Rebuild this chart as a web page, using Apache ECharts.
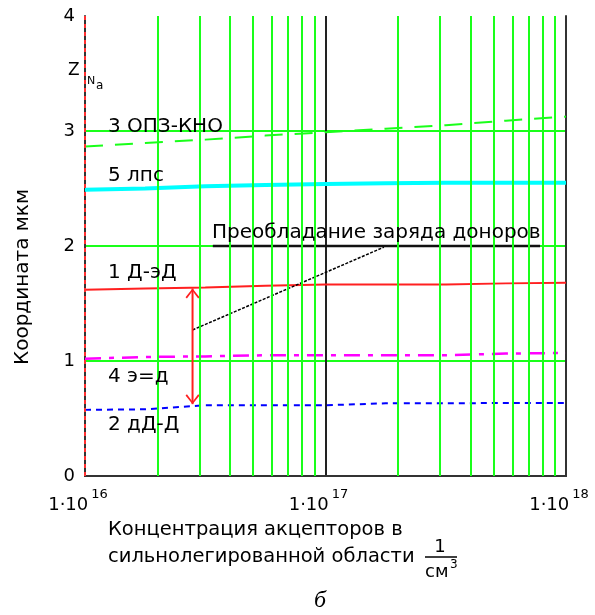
<!DOCTYPE html>
<html>
<head>
<meta charset="utf-8">
<script src="https://cdn.jsdelivr.net/npm/echarts@6/dist/echarts.min.js"></script>
<style>
  html, body { margin: 0; padding: 0; background: #fff; }
  #chart { width: 595px; height: 615px; }
</style>
</head>
<body>
<div id="chart"></div>
<script>
// концентрация (точки через четверть декады)
const concentration = [1e16, 1.778e16, 3.162e16, 5.623e16, 1e17, 1.778e17, 3.162e17, 5.623e17, 1e18];

// координаты, мкм
const line1 = [1.62, 1.63, 1.64, 1.655, 1.665, 1.665, 1.665, 1.675, 1.68];     // 1 Д-эД
const line2 = [0.575, 0.58, 0.615, 0.615, 0.615, 0.632, 0.632, 0.635, 0.635];  // 2 дД-Д
const line3 = [2.865, 2.895, 2.925, 2.96, 2.99, 3.02, 3.05, 3.09, 3.125];      // 3 ОПЗ-КНО
const line4 = [1.02, 1.035, 1.04, 1.05, 1.05, 1.05, 1.05, 1.065, 1.07];        // 4 э=д
const line5 = [2.49, 2.5, 2.52, 2.53, 2.54, 2.545, 2.55, 2.55, 2.55];          // 5 лпс

const yTicks = [0, 1, 2, 3, 4];
const minorGridX = [2e16, 3e16, 4e16, 5e16, 6e16, 7e16, 8e16, 9e16,
                    2e17, 3e17, 4e17, 5e17, 6e17, 7e17, 8e17, 9e17];

// выноска "Преобладание заряда доноров"
const leaderLine = [[2.8e16, 1.27], [1.75e17, 1.99]];
const underline = [[3.4e16, 2], [7.8e17, 2]];
const arrowX = 2.8e16;
const arrowTop = 1.63;
const arrowBottom = 0.625;

const FONT = '"DejaVu Sans", sans-serif';
const GREEN = '#1aff1a';

const pair = (ys) => concentration.map((x, i) => [x, ys[i]]);

const chart = echarts.init(document.getElementById('chart'), null, { renderer: 'canvas' });

const chevron = 'path://M5,0 L10,7 L9,8 L5,2 L1,8 L0,7 Z';

function txt(x, y, text, size, extra) {
  return Object.assign({
    type: 'text', x: x, y: y, z: 10,
    style: {
      text: text, font: size + 'px ' + FONT, fill: '#000',
      align: 'left', verticalAlign: 'middle', textVerticalAlign: 'middle',
    },
  }, extra || {});
}

const option = {
  animation: false,
  backgroundColor: '#fff',
  grid: { left: 85, right: 29, top: 16, bottom: 139, containLabel: false, outerBoundsMode: 'none' },
  xAxis: [
    {
      type: 'log',
      logBase: 10,
      min: 1e16,
      max: 1e18,
      axisLine: { show: true, lineStyle: { color: '#333', width: 2 } },
      axisTick: { show: false },
      splitLine: {
        show: true,
        showMinLine: false,
        showMaxLine: false,
        lineStyle: { color: '#222', width: 2 },
      },
      axisLabel: {
        margin: 12,
        formatter: (v) => '{b|1·10}{s|' + Math.round(Math.log10(v)) + '}',
        rich: {
          b: { fontFamily: FONT, fontSize: 18, color: '#000', lineHeight: 26, verticalAlign: 'bottom' },
          s: { fontFamily: FONT, fontSize: 13, color: '#000', lineHeight: 26, verticalAlign: 'top', padding: [0, 14, 0, 3] },
        },
      },
    },
    {
      type: 'log',
      logBase: 10,
      min: 1e16,
      max: 1e18,
      position: 'top',
      axisLine: { show: true, lineStyle: { color: '#333', width: 2 } },
      axisTick: { show: false },
      axisLabel: { show: false },
      splitLine: { show: false },
    },
  ],
  yAxis: [
    {
      type: 'value',
      min: 0,
      max: 4,
      interval: 1,
      axisLine: { show: true, lineStyle: { color: '#333', width: 2 } },
      axisTick: { show: false },
      axisLabel: {
        margin: 10,
        fontFamily: FONT,
        fontSize: 18,
        color: '#000',
        formatter: (v) => (yTicks.includes(v) ? String(v) : ''),
      },
      splitLine: {
        show: true,
        showMinLine: false,
        showMaxLine: false,
        lineStyle: { color: GREEN, width: 2 },
      },
    },
    {
      type: 'value',
      min: 0,
      max: 4,
      position: 'right',
      axisLine: { show: true, lineStyle: { color: '#333', width: 2 } },
      axisTick: { show: false },
      axisLabel: { show: false },
      splitLine: { show: false },
    },
  ],
  series: [
    {
      // сетка по 2..9 в каждой декаде + красная пунктирная ось
      type: 'line',
      data: [[1e16, 0]],
      showSymbol: false,
      lineStyle: { opacity: 0 },
      z: 1,
      markLine: {
        silent: true,
        symbol: 'none',
        label: { show: false },
        lineStyle: { color: GREEN, width: 2, type: 'solid' },
        data: minorGridX.map((v) => ({ xAxis: v })).concat([
          { xAxis: 1e16, lineStyle: { color: '#ff3030', width: 2, type: [4, 4] } },
        ]),
      },
    },
    {
      name: '3 ОПЗ-КНО',
      type: 'line',
      data: pair(line3),
      showSymbol: false,
      z: 3,
      lineStyle: { color: GREEN, width: 2, type: [18, 12] },
    },
    {
      name: '5 лпс',
      type: 'line',
      data: pair(line5),
      showSymbol: false,
      z: 3,
      lineStyle: { color: '#00ffff', width: 4 },
    },
    {
      name: '1 Д-эД',
      type: 'line',
      data: pair(line1),
      showSymbol: false,
      z: 3,
      lineStyle: { color: '#ff2020', width: 2 },
    },
    {
      name: '4 э=д',
      type: 'line',
      data: pair(line4),
      showSymbol: false,
      z: 3,
      lineStyle: { color: '#ff00ff', width: 2.5, type: [16, 8, 5, 8] },
    },
    {
      name: '2 дД-Д',
      type: 'line',
      data: pair(line2),
      showSymbol: false,
      z: 3,
      lineStyle: { color: '#0000ff', width: 2, type: [6, 5] },
    },
    {
      // наклонная выноска
      type: 'line',
      data: leaderLine,
      showSymbol: false,
      z: 4,
      lineStyle: { color: '#000', width: 1.5, type: [3, 1.5] },
    },
    {
      type: 'line',
      data: underline,
      showSymbol: false,
      z: 4,
      lineStyle: { color: '#111', width: 2.5 },
    },
    {
      // двусторонняя стрелка
      type: 'line',
      data: [
        { value: [arrowX, arrowTop], symbolRotate: 0, symbolOffset: [0, 5] },
        { value: [arrowX, arrowBottom], symbolRotate: 180, symbolOffset: [0, -5] },
      ],
      symbol: chevron,
      symbolSize: [14, 10],
      showSymbol: true,
      z: 4,
      itemStyle: { color: '#ff2020' },
      lineStyle: { color: '#ff2020', width: 2 },
    },
  ],
  graphic: [
    txt(23, 277, 'Координата мкм', 20, { rotation: Math.PI / 2,
      style: { text: 'Координата мкм', font: '20px ' + FONT, fill: '#000', align: 'center', verticalAlign: 'middle', textAlign: 'center', textVerticalAlign: 'middle' } }),
    txt(108, 530, 'Концентрация акцепторов в', 19.5),
    txt(108, 557, 'сильнолегированной области', 19.5),
    { type: 'text', x: 440, y: 547,
      style: { text: '1', font: '18px ' + FONT, fill: '#000', align: 'center', verticalAlign: 'middle', textAlign: 'center', textVerticalAlign: 'middle' } },
    { type: 'line', shape: { x1: 425, y1: 557, x2: 457, y2: 557 }, style: { stroke: '#000', lineWidth: 1.5 } },
    txt(425, 572, 'см', 18),
    txt(450, 565, '3', 12),
    { type: 'text', x: 320, y: 601,
      style: { text: 'б', font: 'italic 24px "Liberation Serif", serif', fill: '#000', align: 'center', verticalAlign: 'middle', textAlign: 'center', textVerticalAlign: 'middle' } },

    txt(68, 71, 'Z', 17),
    txt(87, 81, 'N', 11),
    txt(96, 86, 'a', 12),

    txt(108, 127, '3 ОПЗ-КНО', 20),
    txt(108, 176, '5 лпс', 20),
    txt(108, 273, '1 Д-эД', 20),
    txt(108, 377, '4 э=д', 20),
    txt(108, 425, '2 дД-Д', 20),
    txt(212, 233, 'Преобладание заряда доноров', 20),
  ],
};

chart.setOption(option);
</script>
</body>
</html>
